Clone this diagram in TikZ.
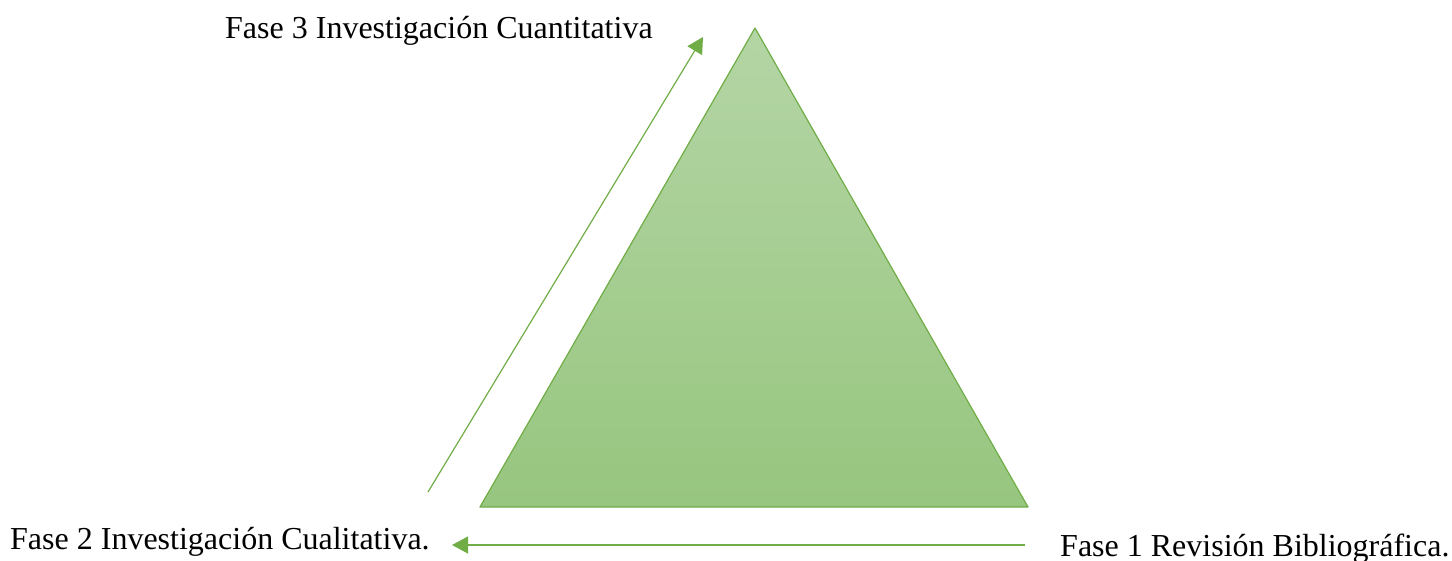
\documentclass[tikz,border=0pt]{standalone}
\usepackage{fontspec}
\setmainfont{Liberation Serif}
\usetikzlibrary{arrows.meta}
\definecolor{fasegreen}{RGB}{112,173,71}
\definecolor{topgreen}{RGB}{180,213,165}
\definecolor{botgreen}{RGB}{151,198,127}
\begin{document}
\begin{tikzpicture}[x=1pt, y=-1pt, every node/.style={font=\fontsize{32}{38}\selectfont, inner sep=0pt},
  fase/.style={-{Triangle[length=16pt, width=17pt]}, draw=fasegreen, line width=1.2pt}]
  \useasboundingbox (0,0) rectangle (1452,560);
  \coordinate (A) at (755,28);
  \coordinate (B) at (480,507);
  \coordinate (C) at (1028,507);
  \coordinate (S1) at (1025,545);
  \coordinate (E1) at (452,545);
  \coordinate (S2) at (428,492);
  \coordinate (E2) at (703,37);

  \shade[top color=topgreen, bottom color=botgreen] (A)--(B)--(C)--cycle;
  \draw[fasegreen, line width=1.2pt, line join=round] (A)--(B)--(C)--cycle;
  \draw[fase] (S1)--(E1);
  \draw[fase] (S2)--(E2);

  \node[anchor=base west] (f3) at (225,38) {Fase 3 Investigación Cuantitativa};
  \node[anchor=base west] (f2) at (10,549) {Fase 2 Investigación Cualitativa.};
  \node[anchor=base west] (f1) at (1060,556) {Fase 1 Revisión Bibliográfica.};
\end{tikzpicture}
\end{document}
